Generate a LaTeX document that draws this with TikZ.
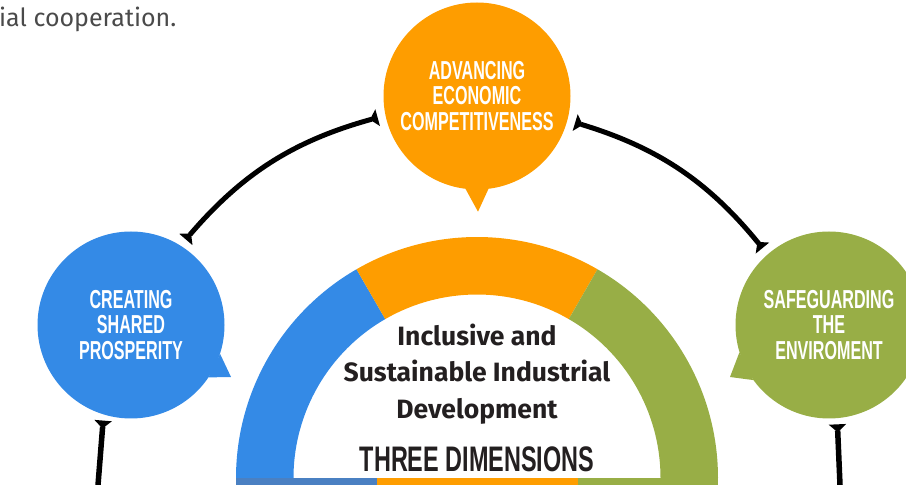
\documentclass[tikz,border=0pt]{standalone}
\usepackage{fontspec}
\setmainfont{Fira Sans}
\newfontfamily\condfont[FakeStretch=0.62]{Liberation Sans}
\newfontfamily\titlefont[FakeStretch=0.66]{Liberation Sans}
\usetikzlibrary{calc,positioning,arrows.meta}
\definecolor{dimOrange}{HTML}{FE9D00}
\definecolor{dimBlue}{HTML}{348AE6}
\definecolor{dimGreen}{HTML}{98AE46}
\definecolor{stripBlue}{HTML}{4A80C2}
\definecolor{darkText}{HTML}{231F20}
\definecolor{grayText}{HTML}{4A4A4A}
\tikzset{
tbar/.tip={Triangle[reversed,length=8pt,width=17pt]},
dimension/.style={
  circle,
  minimum size=187pt,
  inner sep=0pt,
  text=white,
  align=center,
  font=\condfont\bfseries\fontsize{26}{25.5}\selectfont
},
link/.style={line width=5pt, tbar-tbar, shorten <=8pt, shorten >=8pt},
stem/.style={line width=5.5pt, -tbar, shorten >=6pt},
}

\begin{document}
\begin{tikzpicture}[x=1pt,y=1pt]
    \useasboundingbox (0,0) rectangle (906,485);
    \node[anchor=base west, inner sep=0pt, text=grayText, font=\fontsize{25}{25}\selectfont] (coop) at (-1,458) {ial cooperation.};

    \coordinate (ring) at (477,7);
    \fill[dimBlue] (ring) ++(180:241) arc[start angle=180, end angle=120, radius=241]
        -- ($(ring)+(120:183.5)$) arc[start angle=120, end angle=180, radius=183.5] -- cycle;
    \fill[dimOrange] (ring) ++(120:241) arc[start angle=120, end angle=60, radius=241]
        -- ($(ring)+(60:183.5)$) arc[start angle=60, end angle=120, radius=183.5] -- cycle;
    \fill[dimGreen] (ring) ++(60:241) arc[start angle=60, end angle=0, radius=241]
        -- ($(ring)+(0:183.5)$) arc[start angle=0, end angle=60, radius=183.5] -- cycle;
    \fill[stripBlue] (236,0) rectangle (377,7);
    \fill[dimOrange] (377,0) rectangle (578,7);
    \fill[dimGreen] (578,0) rectangle (718,7);

    \node[text=darkText, align=center, font=\bfseries\fontsize{26.5}{36.5}\selectfont] (isid) at (477,111) {Inclusive and\\Sustainable Industrial\\Development};
    \node[anchor=base, inner sep=0pt, text=darkText, font=\titlefont\bfseries\fontsize{35.5}{36}\selectfont] (three) at (477,13) {THREE DIMENSIONS};

    \node[dimension, fill=dimOrange] (adv) at (477,389) {ADVANCING\\ECONOMIC\\COMPETITIVENESS};
    \node[dimension, fill=dimBlue] (csp) at (131,160) {CREATING\\SHARED\\PROSPERITY};
    \node[dimension, fill=dimGreen] (ste) at (829,160) {SAFEGUARDING\\THE\\ENVIROMENT};
    \fill[dimOrange] (adv.263) -- ($(adv.south)+(1,-22)$) -- (adv.277) -- cycle;
    \fill[dimBlue] (csp.342) -- ($(csp.center)+(100,-52)$) -- (csp.326) -- cycle;
    \fill[dimGreen] (ste.197) -- ($(ste.center)+(-99,-52)$) -- (ste.216) -- cycle;

    \coordinate (cspfoot) at (98,0);
    \coordinate (stefoot) at (840,0);
    \draw[link] (adv.192) to[bend right=17] (csp.58);
    \draw[link] (adv.345) to[bend left=17] (ste.131);
    \draw[stem] (cspfoot) -- (csp.253);
    \draw[stem] (stefoot) -- (ste.275);
\end{tikzpicture}
\end{document}
